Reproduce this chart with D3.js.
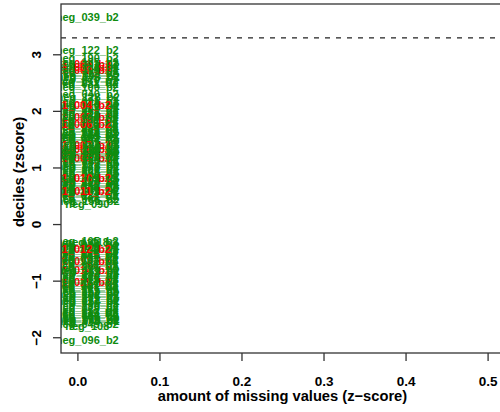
<!DOCTYPE html>
<html>
<head>
<meta charset="utf-8">
<script src="https://cdn.jsdelivr.net/npm/d3@7"></script>
<style>
  body { margin: 0; background: #fff; }
  text { font-family: "Liberation Sans", Arial, sans-serif; font-weight: bold; }
</style>
</head>
<body>
<script>
// sample labels, in the order they were drawn
const sampleNames = [
  "neg_001_b2", "neg_003_b2", "neg_004_b2", "neg_006_b2", "neg_007_b2", "neg_009_b2", "neg_010_b2", "neg_012_b2",
  "neg_013_b2", "neg_015_b2", "neg_016_b2", "neg_018_b2", "neg_019_b2", "neg_021_b2", "neg_022_b2", "neg_024_b2",
  "neg_025_b2", "neg_027_b2", "neg_028_b2", "neg_030_b2", "neg_031_b2", "neg_033_b2", "neg_034_b2", "neg_036_b2",
  "neg_037_b2", "neg_039_b2", "neg_040_b2", "neg_042_b2", "neg_043_b2", "neg_045_b2", "neg_046_b2", "neg_048_b2",
  "neg_049_b2", "neg_051_b2", "neg_052_b2", "neg_054_b2", "neg_055_b2", "neg_057_b2", "neg_058_b2", "neg_060_b2",
  "neg_061_b2", "neg_063_b2", "neg_064_b2", "neg_066_b2", "neg_067_b2", "neg_069_b2", "neg_070_b2", "neg_072_b2",
  "neg_073_b2", "neg_075_b2", "neg_076_b2", "neg_078_b2", "neg_079_b2", "neg_081_b2", "neg_082_b2", "neg_084_b2",
  "neg_085_b2", "neg_087_b2", "neg_088_b2", "neg_090", "neg_091_b2", "neg_093_b2", "neg_094_b2", "neg_096_b2",
  "neg_097_b2", "neg_099_b2", "neg_100_b2",
  "1_001_b2", "1_002_b2", "1_005_b2", "1_007_b2", "1_008_b2", "1_009_b2", "1_013_b2", "1_014_b2", "1_015_b2",
  "neg_102_b2", "neg_103_b2", "neg_105_b2", "neg_106_b2", "neg_108", "neg_109_b2", "neg_111_b2", "neg_112_b2",
  "neg_114_b2", "neg_115_b2", "neg_117_b2", "neg_118", "neg_120_b2", "neg_121_b2", "neg_122_b2", "neg_124_b2",
  "neg_125_b2", "neg_127_b2", "neg_128_b2", "neg_130_b2", "neg_131_b2", "neg_133_b2", "neg_134_b2", "neg_136_b2",
  "neg_137_b2", "neg_139_b2", "neg_140_b2", "neg_142_b2", "neg_143_b2", "neg_145_b2", "neg_146_b2", "neg_148_b2",
  "neg_149_b2", "neg_151_b2", "neg_152_b2", "neg_154_b2", "neg_155_b2", "neg_157_b2", "neg_158_b2", "neg_160_b2",
  "neg_161_b2", "neg_163_b2", "neg_164_b2", "neg_166_b2", "neg_167_b2", "neg_169_b2", "neg_170_b2", "neg_172_b2",
  "neg_173_b2", "neg_175_b2", "neg_176_b2", "neg_178_b2", "neg_179_b2",
  "1_003_b2", "1_004_b2", "1_006_b2", "1_010_b2",
  "neg_181_b2", "neg_182_b2", "neg_184_b2", "neg_185_b2", "neg_187_b2", "neg_188_b2", "neg_190_b2", "neg_191_b2",
  "neg_193_b2", "neg_194_b2", "neg_196_b2", "neg_197_b2", "neg_199_b2", "neg_200_b2",
  "1_011_b2", "1_012_b2"
];

// amount of missing values (z-score)
const missingValues = [
  0.012, 0.011, 0.013, 0.012, 0.012, 0.011, 0.012, 0.013,
  0.012, 0.012, 0.011, 0.012, 0.013, 0.012, 0.012, 0.011,
  0.012, 0.012, 0.013, 0.012, 0.012, 0.011, 0.012, 0.012,
  0.013, 0.012, 0.012, 0.011, 0.012, 0.012, 0.013, 0.012,
  0.012, 0.011, 0.012, 0.012, 0.013, 0.012, 0.012, 0.011,
  0.012, 0.012, 0.013, 0.012, 0.012, 0.011, 0.012, 0.012,
  0.013, 0.012, 0.012, 0.011, 0.012, 0.012, 0.013, 0.012,
  0.012, 0.011, 0.012, 0.012, 0.012, 0.013, 0.012, 0.012,
  0.011, 0.012, 0.012,
  0.011, 0.011, 0.011, 0.011, 0.011, 0.011, 0.011, 0.011, 0.011,
  0.013, 0.012, 0.012, 0.011, 0.012, 0.012, 0.013, 0.012,
  0.012, 0.011, 0.012, 0.012, 0.013, 0.012, 0.012, 0.011,
  0.012, 0.012, 0.013, 0.012, 0.012, 0.011, 0.012, 0.012,
  0.013, 0.012, 0.012, 0.011, 0.012, 0.012, 0.013, 0.012,
  0.012, 0.011, 0.012, 0.012, 0.013, 0.012, 0.012, 0.011,
  0.012, 0.012, 0.013, 0.012, 0.012, 0.011, 0.012, 0.012,
  0.013, 0.012, 0.012, 0.011, 0.012,
  0.011, 0.011, 0.011, 0.011,
  0.012, 0.013, 0.012, 0.012, 0.011, 0.012, 0.012, 0.013,
  0.012, 0.012, 0.011, 0.012, 0.012, 0.013,
  0.011, 0.011
];

// deciles (zscore)
const decileScores = [
  1.84, -0.62, 2.61, -1.27, 0.97, 1.52, -0.93, 2.08,
  -1.55, 0.71, 1.27, -0.41, 2.79, -1.12, 1.63, 0.52,
  -0.77, 1.95, -1.68, 1.09, 2.47, -0.33, 1.38, -1.40,
  0.84, 3.66, 2.29, -1.01, 1.74, -0.55, 0.60, 2.14,
  -1.76, 1.18, -0.86, 2.70, 1.45, -1.20, 0.90, -0.47,
  2.01, -1.62, 1.57, 0.45, -0.70, 1.31, 2.55, -1.34,
  1.02, -0.97, 1.89, 0.66, -1.48, 2.83, 1.22, -0.37,
  1.68, -1.08, 0.78, 0.36, 2.18, -1.72, 1.49, -2.05,
  -0.59, 1.13, 2.42,
  2.82, 2.72, 1.89, 1.40, 1.33, 1.17, -0.66, -0.81, -1.02,
  -1.24, 0.56, -0.30, 1.79, -1.81, 0.93, -0.81, 2.66,
  1.35, -1.58, 2.05, -0.31, 0.74, -1.15, 3.08, 1.59,
  -0.51, 1.06, 2.24, -1.44, 0.49, 1.71, -0.90, 2.75,
  1.25, -1.30, 0.63, -0.66, 1.92, -1.65, 1.41, 0.87,
  -0.44, 2.51, -1.05, 1.15, 0.41, -1.52, 1.98, -0.74,
  0.69, 1.54, -1.36, 2.11, -0.95, 0.81, 1.29, -1.18,
  2.59, -0.53, 1.00, 1.76, -1.70,
  2.77, 2.10, 1.77, 0.82,
  0.58, -0.83, 1.62, 2.87, -1.10, 1.20, 2.93, -0.39,
  0.76, -1.60, 1.86, -0.64, 2.73, 1.33,
  0.59, -0.44
];

const xLimits = [0, 0.5];
const xTicks = [0, 0.1, 0.2, 0.3, 0.4, 0.5];
const yTicks = [-2, -1, 0, 1, 2, 3];
const cutoff = 3.29;

const samples = sampleNames.map((name, i) => ({
  name: name,
  x: missingValues[i],
  y: decileScores[i]
}));

const width = 500;
const height = 412;
const plot = { left: 61, top: 4, right: 504, bottom: 353 };

// R style 4% padding around the ranges
function padded(extent) {
  const pad = (extent[1] - extent[0]) * 0.04;
  return [extent[0] - pad, extent[1] + pad];
}

const x = d3.scaleLinear()
  .domain(padded(xLimits))
  .range([plot.left, plot.right]);

const y = d3.scaleLinear()
  .domain(padded(d3.extent(decileScores)))
  .range([plot.bottom, plot.top]);

const svg = d3.select("body").append("svg")
  .attr("width", width)
  .attr("height", height);

svg.append("clipPath")
  .attr("id", "plot-clip")
  .append("rect")
  .attr("x", plot.left)
  .attr("y", plot.top)
  .attr("width", plot.right - plot.left)
  .attr("height", plot.bottom - plot.top);

// labels as points
svg.append("g")
  .attr("clip-path", "url(#plot-clip)")
  .selectAll("text")
  .data(samples)
  .join("text")
  .attr("x", d => x(d.x))
  .attr("y", d => y(d.y))
  .attr("dy", "0.36em")
  .attr("text-anchor", "middle")
  .attr("font-size", 11)
  .attr("fill", d => d.name.startsWith("neg") ? "#0f8c0f" : "#ff0000")
  .text(d => d.name);

// cutoff line
svg.append("line")
  .attr("clip-path", "url(#plot-clip)")
  .attr("x1", plot.left)
  .attr("x2", plot.right)
  .attr("y1", y(cutoff))
  .attr("y2", y(cutoff))
  .attr("stroke", "#222")
  .attr("stroke-width", 1.2)
  .attr("stroke-dasharray", "5,6");

// box
svg.append("rect")
  .attr("x", plot.left)
  .attr("y", plot.top)
  .attr("width", plot.right - plot.left)
  .attr("height", plot.bottom - plot.top)
  .attr("fill", "none")
  .attr("stroke", "#333")
  .attr("stroke-width", 1.3);

// x axis
const xAxis = svg.append("g")
  .attr("transform", `translate(0,${plot.bottom})`)
  .call(d3.axisBottom(x).tickValues(xTicks).tickFormat(d3.format(".1f")).tickSize(8).tickPadding(15));
xAxis.select(".domain").remove();
xAxis.selectAll("line").attr("stroke", "#333").attr("stroke-width", 1.3);
xAxis.selectAll("text").attr("font-size", 13.5).attr("fill", "#000");

// y axis with rotated labels
const yAxis = svg.append("g")
  .attr("transform", `translate(${plot.left},0)`)
  .call(d3.axisLeft(y).tickValues(yTicks).tickSize(8));
yAxis.select(".domain").remove();
yAxis.selectAll("line").attr("stroke", "#333").attr("stroke-width", 1.3);
yAxis.selectAll("text")
  .attr("x", 0)
  .attr("y", -25)
  .attr("dy", "0.36em")
  .attr("text-anchor", "middle")
  .attr("transform", "rotate(-90)")
  .attr("font-size", 13.5)
  .attr("fill", "#000")
  .text(d => d3.format("d")(d).replace("-", "\u2212"));

// axis titles
svg.append("text")
  .attr("x", (plot.left + plot.right) / 2)
  .attr("y", 401)
  .attr("text-anchor", "middle")
  .attr("font-size", 14.7)
  .text("amount of missing values (z\u2212score)");

svg.append("text")
  .attr("transform", `translate(19,172) rotate(-90)`)
  .attr("dy", "0.36em")
  .attr("text-anchor", "middle")
  .attr("font-size", 14.7)
  .text("deciles (zscore)");
</script>
</body>
</html>
